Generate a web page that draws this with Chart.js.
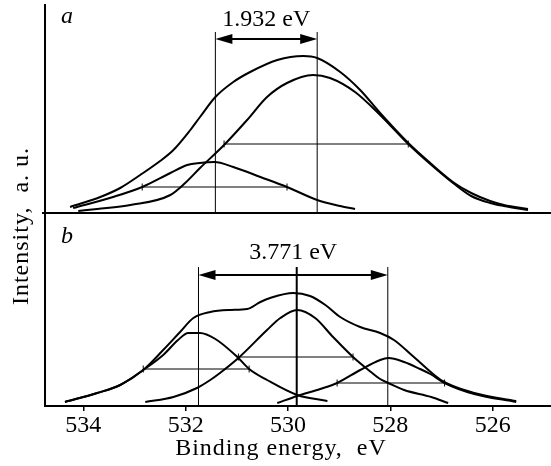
<!DOCTYPE html>
<html><head><meta charset="utf-8">
<script src="https://cdn.jsdelivr.net/npm/chart.js@4.4.1/dist/chart.umd.min.js"></script>
<style>html,body{margin:0;padding:0;background:#fff;}#wrap{width:551px;height:466px;}</style>
</head><body><div id="wrap"><canvas id="c" width="551" height="466"></canvas></div>
<script>
// ---- x axis ----
const xTicks = [534, 532, 530, 528, 526];
const xTitle = 'Binding energy,  eV';
const yTitle = 'Intensity,  a. u.';

// ---- panel a ----
const aEnvelopeE = [534.26,533.67,533.28,532.89,532.50,532.24,531.91,531.72,531.42,531.07,530.74,530.21,529.70,529.43,528.98,528.59,528.20,527.65,527.22,526.75,526.42,526.05,525.78,525.31];
const aEnvelopeI = [0.6,1.6,2.5,3.8,5.2,6.3,8.3,9.6,11.6,13.1,14.1,15.3,15.7,15.5,14.1,12.3,10.0,7.0,5.0,3.0,2.0,1.2,0.8,0.4];
const aMainE = [534.10,533.73,533.08,532.30,532.01,531.72,531.25,530.80,530.41,530.02,529.51,529.18,528.69,528.20,527.65,527.22,526.75,526.42,526.05,525.78,525.31];
const aMainI = [0.2,0.4,0.8,1.8,3.0,4.5,6.8,9.3,11.6,13.0,13.8,13.5,12.1,9.8,6.9,4.9,2.9,1.7,1.0,0.7,0.3];
const aSmallE = [534.20,533.42,532.85,532.30,531.97,531.72,531.44,531.07,530.54,530.02,529.43,528.98,528.69];
const aSmallI = [0.5,1.6,2.6,4.0,4.8,5.0,5.1,4.6,3.6,2.6,1.3,0.7,0.4];
const aFwhmMainE = [531.25, 527.65], aFwhmMainI = 6.9;
const aFwhmSmallE = [532.85, 530.02], aFwhmSmallI = 2.6;
const aMarkersE = [531.42, 529.43];
const aMarkerTopI = 18.1, aArrowI = 17.4, aGapLabelI = 19.3;
const aGapLabel = '1.932 eV';

// ---- panel b ----
const bEnvelopeE = [534.36,533.73,533.28,532.83,532.44,532.11,531.85,531.52,531.13,530.80,530.54,530.35,529.90,529.57,529.27,528.98,528.59,528.20,527.93,527.54,527.01,526.36,525.54];
const bEnvelopeI = [0.4,1.3,2.1,3.6,5.6,7.4,8.8,9.4,9.6,9.7,10.4,10.8,11.3,11.0,10.1,8.9,7.9,7.3,6.6,4.9,2.6,1.3,0.5];
const bLeftE = [534.36,533.73,533.28,532.83,532.44,532.15,531.95,531.72,531.42,530.99,530.76,530.41,529.82,529.23];
const bLeftI = [0.4,1.3,2.1,3.6,5.1,6.6,7.3,7.3,6.7,4.9,3.7,2.6,1.1,0.5];
const bMidE = [532.79,532.24,531.78,531.52,531.33,530.97,530.41,530.15,529.82,529.47,529.12,528.73,528.38,528.20,528.04,527.73,527.20,526.87];
const bMidI = [0.4,0.9,1.8,2.6,3.3,4.8,7.6,8.8,9.6,8.8,6.9,4.9,3.4,2.7,2.3,1.6,0.9,0.3];
const bRightE = [530.21,529.82,529.37,529.04,528.59,528.20,528.04,527.73,527.42,527.22,526.94,526.36,525.54];
const bRightI = [0.3,1.0,1.7,2.3,3.6,4.6,4.8,4.4,3.7,3.2,2.3,1.2,0.4];
const bFwhmLeftE = [532.83, 530.76], bFwhmLeftI = 3.7;
const bFwhmMidE = [530.97, 528.73], bFwhmMidI = 4.9;
const bFwhmRightE = [529.04, 526.94], bFwhmRightI = 2.3;
const bMarkersE = [531.75, 529.83, 528.05];
const bMarkerTopI = 13.9, bArrowI = 13.1, bGapLabelI = 15.3;
const bGapLabel = '3.771 eV';

// panel letters
const panelLetterE = 534.32, aLetterI = 19.6, bLetterI = 16.9;

const FONT = '"Liberation Serif", "Times New Roman", serif';

function curve(E, I, axis) {
  return { data: E.map((e, i) => ({ x: e, y: I[i] })), yAxisID: axis, borderColor: '#000',
    borderWidth: 2, pointRadius: 0, fill: false, cubicInterpolationMode: 'monotone' };
}
function fwhm(E, I, axis) {
  return { data: E.map(e => ({ x: e, y: I })), yAxisID: axis, borderColor: '#000', borderWidth: 1,
    pointStyle: 'line', pointRotation: 90, pointRadius: 3.5, pointBorderWidth: 1,
    pointBorderColor: '#000', pointBackgroundColor: '#000', fill: false, tension: 0 };
}
function marker(e, top, axis, w) {
  return { data: [{ x: e, y: 0 }, { x: e, y: top }], yAxisID: axis, borderColor: '#000',
    borderWidth: w, pointRadius: 0, fill: false, tension: 0 };
}

const datasets = [
  curve(aEnvelopeE, aEnvelopeI, 'y'), curve(aMainE, aMainI, 'y'), curve(aSmallE, aSmallI, 'y'),
  fwhm(aFwhmMainE, aFwhmMainI, 'y'), fwhm(aFwhmSmallE, aFwhmSmallI, 'y'),
  ...aMarkersE.map(e => marker(e, aMarkerTopI, 'y', 1)),
  curve(bEnvelopeE, bEnvelopeI, 'y2'), curve(bLeftE, bLeftI, 'y2'), curve(bMidE, bMidI, 'y2'), curve(bRightE, bRightI, 'y2'),
  fwhm(bFwhmLeftE, bFwhmLeftI, 'y2'), fwhm(bFwhmMidE, bFwhmMidI, 'y2'), fwhm(bFwhmRightE, bFwhmRightI, 'y2'),
  ...bMarkersE.map((e, i) => marker(e, bMarkerTopI, 'y2', i === 1 ? 2 : 1)),
];

function drawArrow(ctx, x1, x2, y) {
  const hl = 17, hw = 5;
  ctx.lineWidth = 2;
  ctx.beginPath(); ctx.moveTo(x1 + hl - 2, y); ctx.lineTo(x2 - hl + 2, y); ctx.stroke();
  ctx.beginPath(); ctx.moveTo(x1, y); ctx.lineTo(x1 + hl, y - hw); ctx.lineTo(x1 + hl, y + hw); ctx.closePath(); ctx.fill();
  ctx.beginPath(); ctx.moveTo(x2, y); ctx.lineTo(x2 - hl, y - hw); ctx.lineTo(x2 - hl, y + hw); ctx.closePath(); ctx.fill();
}

const annot = {
  id: 'annot',
  afterDatasetsDraw(chart) {
    const ctx = chart.ctx, xs = chart.scales.x, ya = chart.scales.y, yb = chart.scales.y2;
    ctx.save();
    ctx.fillStyle = '#000'; ctx.strokeStyle = '#000';
    const ax1 = xs.getPixelForValue(aMarkersE[0]), ax2 = xs.getPixelForValue(aMarkersE[aMarkersE.length - 1]);
    drawArrow(ctx, ax1, ax2, ya.getPixelForValue(aArrowI));
    const bx1 = xs.getPixelForValue(bMarkersE[0]), bx2 = xs.getPixelForValue(bMarkersE[bMarkersE.length - 1]);
    drawArrow(ctx, bx1, bx2, yb.getPixelForValue(bArrowI));
    ctx.font = '24px ' + FONT; ctx.textAlign = 'center'; ctx.textBaseline = 'middle';
    ctx.fillText(aGapLabel, (ax1 + ax2) / 2, ya.getPixelForValue(aGapLabelI));
    ctx.fillText(bGapLabel, (bx1 + bx2) / 2, yb.getPixelForValue(bGapLabelI));
    ctx.font = 'italic 24px ' + FONT;
    ctx.fillText('a', xs.getPixelForValue(panelLetterE), ya.getPixelForValue(aLetterI));
    ctx.fillText('b', xs.getPixelForValue(panelLetterE), yb.getPixelForValue(bLetterI));
    // axis titles
    ctx.font = '24px ' + FONT;
    ctx.letterSpacing = '1px';
    ctx.fillText(xTitle, 281, 449);
    ctx.translate(22, 226); ctx.rotate(-Math.PI / 2);
    ctx.fillText(yTitle, 0, 0);
    ctx.restore();
  }
};

new Chart(document.getElementById('c'), {
  type: 'line',
  data: { datasets },
  plugins: [annot],
  options: {
    responsive: false, animation: false, devicePixelRatio: 1,
    events: [],
    layout: { autoPadding: false, padding: { top: 5, left: 0, right: 0, bottom: 0 } },
    plugins: { legend: { display: false }, tooltip: { enabled: false } },
    scales: {
      x: {
        type: 'linear', reverse: true, min: 524.86, max: 534.75,
        afterBuildTicks: s => { s.ticks = xTicks.map(v => ({ value: v })); },
        afterFit: s => { s.height = 60; s.paddingLeft = 0; s.paddingRight = 0; },
        ticks: { color: '#000', font: { family: FONT, size: 24 }, padding: 0, maxRotation: 0 },
        grid: { drawOnChartArea: false, drawTicks: true, tickLength: 5, color: '#000', lineWidth: 1.5 },
        border: { display: true, color: '#000', width: 2 },
        title: { display: false }
      },
      y2: {
        type: 'linear', position: 'left', stack: 'panels', stackWeight: 19.3, min: 0, max: 19.3, offset: false,
        afterFit: s => { s.width = 45; },
        ticks: { display: false },
        grid: { display: false },
        border: { display: true, color: '#000', width: 2 }
      },
      y: {
        type: 'linear', position: 'left', stack: 'panels', stackWeight: 20.8, min: 0, max: 20.8, offset: false,
        afterBuildTicks: s => { s.ticks = [{ value: 0 }]; },
        afterFit: s => { s.width = 45; },
        ticks: { display: false },
        grid: { color: '#000', lineWidth: 2, drawTicks: true, tickLength: 3 },
        border: { display: true, color: '#000', width: 2 }
      }
    }
  }
});
</script>
</body></html>
